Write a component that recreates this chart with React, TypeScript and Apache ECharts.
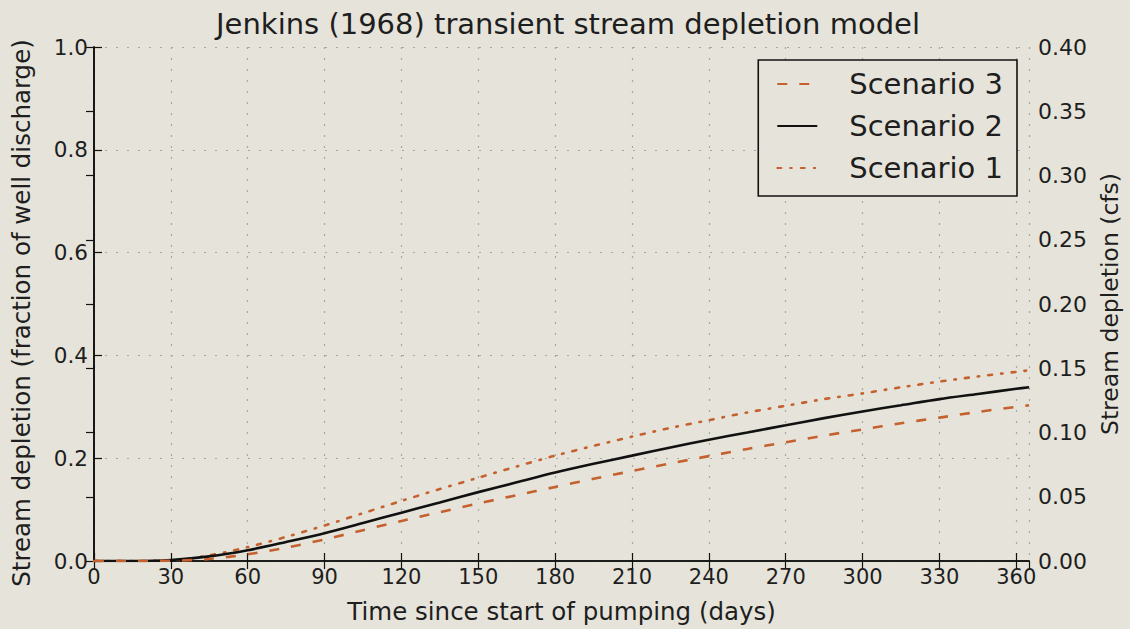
import React, { useEffect, useRef } from "react";
import * as echarts from "echarts";

const days = [0, 15, 30, 45, 60, 75, 90, 105, 120, 135, 150, 165, 180, 195, 210, 225, 240, 255, 270, 285, 300, 315, 330, 345, 360, 365];

const scenario1 = [0, 0, 0.001, 0.011, 0.027, 0.047, 0.069, 0.093, 0.117, 0.14, 0.162, 0.184, 0.205, 0.224, 0.242, 0.259, 0.274, 0.289, 0.302, 0.315, 0.326, 0.338, 0.349, 0.359, 0.368, 0.371];
const scenario2 = [0, 0, 0.002, 0.009, 0.021, 0.037, 0.054, 0.074, 0.094, 0.114, 0.134, 0.153, 0.172, 0.189, 0.205, 0.221, 0.236, 0.25, 0.264, 0.278, 0.291, 0.303, 0.315, 0.325, 0.335, 0.338];
const scenario3 = [0, 0, 0.0005, 0.004, 0.013, 0.026, 0.042, 0.06, 0.078, 0.095, 0.112, 0.128, 0.144, 0.16, 0.175, 0.19, 0.204, 0.218, 0.231, 0.244, 0.256, 0.268, 0.279, 0.29, 0.3, 0.303];

const legendOrder = ["Scenario 3", "Scenario 2", "Scenario 1"];

const FONT = "DejaVu Sans";
const TXT = "#1e1e1e";
const ORANGE = "#c4612f";
const BG = "#e6e4da";

function pairs(ys: number[]) {
  return days.map((d, i) => [d, ys[i]]);
}

export default function App() {
  const ref = useRef<HTMLDivElement>(null);
  useEffect(() => {
    if (!ref.current) return;
    const chart = echarts.init(ref.current, undefined, { renderer: "svg" });
    const axisLine = { show: true, lineStyle: { color: "#111", width: 1.6 } };
    const tick = { show: true, inside: true, length: 8, lineStyle: { color: "#111", width: 1.2 } };
    const gridLine = { show: true, lineStyle: { color: "#a9a8a0", type: [2, 9], width: 1.2 } };
    chart.setOption({
      animation: false,
      backgroundColor: BG,
      textStyle: { fontFamily: FONT },
      title: {
        text: "Jenkins (1968) transient stream depletion model",
        left: 563,
        textAlign: "center",
        top: 4,
        textStyle: { fontFamily: FONT, fontSize: 29, fontWeight: "normal", color: TXT },
      },
      grid: { left: 94, right: 97, top: 47, bottom: 62 },
      legend: {
        data: legendOrder,
        orient: "vertical",
        right: 113,
        top: 60,
        itemWidth: 40,
        itemHeight: 14,
        itemGap: 12,
        padding: [9, 14, 13, 18],
        borderColor: "#111",
        borderWidth: 1.6,
        backgroundColor: BG,
        itemStyle: { opacity: 0 },
        textStyle: { fontFamily: FONT, fontSize: 29, lineHeight: 30, color: TXT, padding: [0, 0, 0, 27] },
      },
      xAxis: [
        {
          type: "value",
          min: 0,
          max: 365,
          interval: 30,
          name: "Time since start of pumping (days)",
          nameLocation: "middle",
          nameGap: 38,
          nameTextStyle: { fontFamily: FONT, fontSize: 24.5, color: TXT },
          axisLine,
          axisTick: tick,
          axisLabel: {
            fontFamily: FONT,
            fontSize: 21,
            color: TXT,
            margin: 5,
            showMaxLabel: false,
            formatter: (v: number) => (v % 30 === 0 ? String(v) : ""),
          },
          splitLine: gridLine,
        },
        {
          type: "value",
          position: "top",
          min: 0,
          max: 365,
          interval: 30,
          axisLine,
          axisTick: tick,
          axisLabel: { show: false },
          splitLine: { show: false },
        },
      ],
      yAxis: [
        {
          type: "value",
          min: 0,
          max: 1,
          interval: 0.2,
          name: "Stream depletion (fraction of well discharge)",
          nameLocation: "middle",
          nameGap: 60,
          nameTextStyle: { fontFamily: FONT, fontSize: 24.5, color: TXT, padding: [0, 18, 0, 0] },
          axisLine,
          axisTick: tick,
          axisLabel: {
            fontFamily: FONT,
            fontSize: 21.5,
            color: TXT,
            margin: 6,
            formatter: (v: number) => v.toFixed(1),
          },
          splitLine: gridLine,
        },
        {
          type: "value",
          position: "right",
          min: 0,
          max: 0.4,
          interval: 0.05,
          name: "Stream depletion (cfs)",
          nameLocation: "middle",
          nameGap: 64,
          nameRotate: 90,
          nameTextStyle: { fontFamily: FONT, fontSize: 23.5, color: TXT },
          axisLine,
          axisTick: tick,
          axisLabel: {
            fontFamily: FONT,
            fontSize: 22,
            color: TXT,
            margin: 9,
            formatter: (v: number) => v.toFixed(2),
          },
          splitLine: { show: false },
        },
      ],
      series: [
        {
          name: "Scenario 1",
          type: "line",
          xAxisIndex: 0,
          yAxisIndex: 0,
          data: pairs(scenario1),
          symbol: "none",
          smooth: 0.3,
          lineStyle: { color: ORANGE, width: 2.6, type: [4, 9, 1.5, 9], cap: "round" },
          itemStyle: { color: ORANGE },
        },
        {
          name: "Scenario 2",
          type: "line",
          xAxisIndex: 0,
          yAxisIndex: 0,
          data: pairs(scenario2),
          symbol: "none",
          smooth: 0.3,
          lineStyle: { color: "#111", width: 2.6 },
          itemStyle: { color: "#111" },
        },
        {
          name: "Scenario 3",
          type: "line",
          xAxisIndex: 0,
          yAxisIndex: 0,
          data: pairs(scenario3),
          symbol: "none",
          smooth: 0.3,
          lineStyle: { color: ORANGE, width: 2.6, type: [10, 12] },
          itemStyle: { color: ORANGE },
        },
      ],
    });
    return () => chart.dispose();
  }, []);
  return (
    <div
      ref={ref}
      style={{ position: "fixed", left: 0, top: 0, width: 1130, height: 629 }}
    />
  );
}
